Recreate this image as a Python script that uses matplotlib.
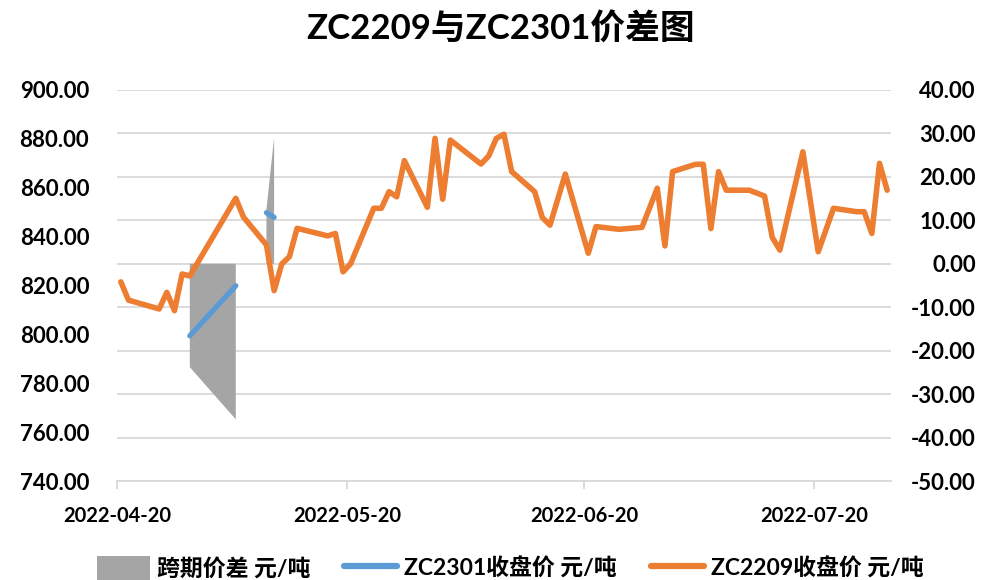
import numpy as np
import pandas as pd
import matplotlib
matplotlib.use('Agg')
import matplotlib.pyplot as plt
import matplotlib.dates as mdates
from matplotlib.patches import Patch
from matplotlib.lines import Line2D
from matplotlib.ticker import MultipleLocator, FormatStrFormatter

plt.rcParams['font.family'] = ['Lato', 'Noto Sans CJK SC']
plt.rcParams['font.weight'] = 'bold'

# ZC2209 closing price (left axis)
zc2209_dates = ['2022-04-20', '2022-04-21', '2022-04-25', '2022-04-26', '2022-04-27', '2022-04-28',
                '2022-04-29', '2022-05-05', '2022-05-06', '2022-05-09', '2022-05-10', '2022-05-11',
                '2022-05-12', '2022-05-13', '2022-05-17', '2022-05-18', '2022-05-19', '2022-05-20',
                '2022-05-23', '2022-05-24', '2022-05-25', '2022-05-26', '2022-05-27', '2022-05-30',
                '2022-05-31', '2022-06-01', '2022-06-02', '2022-06-06', '2022-06-07', '2022-06-08',
                '2022-06-09', '2022-06-10', '2022-06-13', '2022-06-14', '2022-06-15', '2022-06-17',
                '2022-06-20', '2022-06-21', '2022-06-24', '2022-06-27', '2022-06-29', '2022-06-30',
                '2022-07-01', '2022-07-04', '2022-07-05', '2022-07-06', '2022-07-07', '2022-07-08',
                '2022-07-11', '2022-07-13', '2022-07-14', '2022-07-15', '2022-07-18', '2022-07-20',
                '2022-07-22', '2022-07-25', '2022-07-26', '2022-07-27', '2022-07-28', '2022-07-29']
zc2209 = [821.5, 814.0, 810.4, 817.2, 809.7, 824.7,
          823.9, 855.7, 848.0, 836.6, 817.9, 828.8,
          831.8, 843.4, 840.3, 841.3, 825.6, 829.0,
          851.6, 851.6, 858.4, 856.3, 871.1, 852.0,
          880.2, 855.3, 879.5, 869.7, 873.0, 880.2,
          881.9, 866.6, 858.4, 847.8, 844.7, 865.6,
          833.2, 844.1, 843.0, 843.8, 859.8, 836.2,
          866.6, 869.6, 869.6, 843.3, 866.6, 859.0,
          859.0, 856.6, 839.7, 834.5, 874.7, 833.8,
          851.6, 850.2, 850.2, 841.3, 870.0, 859.0]

# ZC2301 closing price (left axis) and spread (right axis)
zc2301_dates = ['2022-04-29', '2022-05-05', '2022-05-06', '2022-05-09', '2022-05-10']
zc2301 = [799.4, 819.9, np.nan, 849.8, 847.9]
spread = [-23.8, -35.8, np.nan, 12.5, 29.0]

labels = ['跨期价差 元/吨', 'ZC2301收盘价 元/吨', 'ZC2209收盘价 元/吨']
tick_dates = ['2022-04-20', '2022-05-20', '2022-06-20', '2022-07-20']

orange, blue, gray, grid_c = '#ED7D31', '#5B9BD5', '#A5A5A5', '#D9D9D9'

x9 = pd.to_datetime(zc2209_dates) + pd.Timedelta(hours=12)
x1 = pd.to_datetime(zc2301_dates) + pd.Timedelta(hours=12)
spread = np.array(spread)

fig = plt.figure(figsize=(9.81, 5.80), dpi=100)
ax = fig.add_axes([117 / 981, 1 - 481 / 580, (891 - 117) / 981, (481 - 90) / 580])
ax2 = ax.twinx()
ax.set_zorder(2)
ax2.set_zorder(1)
ax.patch.set_visible(False)

# spread area on right axis, drawn below lines
ax2.fill_between(x1, 0, spread, where=np.isfinite(spread), color=gray, linewidth=0)
ax2.set_ylim(-50, 40)
ax2.yaxis.set_major_locator(MultipleLocator(10))
ax2.yaxis.set_major_formatter(FormatStrFormatter('%.2f'))
ax2.grid(axis='y', color=grid_c, linewidth=1.3)
ax2.set_axisbelow(True)

ax.plot(x1, zc2301, color=blue, linewidth=3.8, solid_capstyle='round')
ax.plot(x9, zc2209, color=orange, linewidth=4.0, solid_capstyle='round', solid_joinstyle='round')
ax.set_ylim(740, 900)
ax.yaxis.set_major_locator(MultipleLocator(20))
ax.yaxis.set_major_formatter(FormatStrFormatter('%.2f'))
ax.set_xlim(pd.Timestamp('2022-04-20'), pd.Timestamp('2022-07-30'))
ax.set_xticks(pd.to_datetime(tick_dates))
ax.xaxis.set_major_formatter(mdates.DateFormatter('%Y-%m-%d'))

for a in (ax, ax2):
    for s in a.spines.values():
        s.set_visible(False)
ax.spines['bottom'].set_visible(True)
ax.spines['bottom'].set_color(grid_c)
ax.spines['bottom'].set_linewidth(1.3)

ax.tick_params(axis='x', length=6, width=1.3, color=grid_c, pad=12, labelsize=14.5)
ax.tick_params(axis='y', length=0, pad=20, labelsize=16)
ax2.tick_params(axis='y', length=0, pad=61, labelsize=16)
for t in ax2.get_yticklabels():
    t.set_horizontalalignment('right')

fig.suptitle('ZC2209与ZC2301价差图', x=0.51, y=0.98, fontsize=25, fontweight='bold')

handles = [Patch(facecolor=gray, edgecolor='none'),
           Line2D([], [], color=blue, linewidth=4.5, solid_capstyle='round'),
           Line2D([], [], color=orange, linewidth=4.5, solid_capstyle='round')]
fig.legend(handles, labels, loc='lower center', bbox_to_anchor=(0.52, -0.035), ncol=3, frameon=False,
           fontsize=16.5, handlelength=2.3, handleheight=1.2, handletextpad=0.3, columnspacing=1.5)

fig.savefig('out.png', dpi=100)
